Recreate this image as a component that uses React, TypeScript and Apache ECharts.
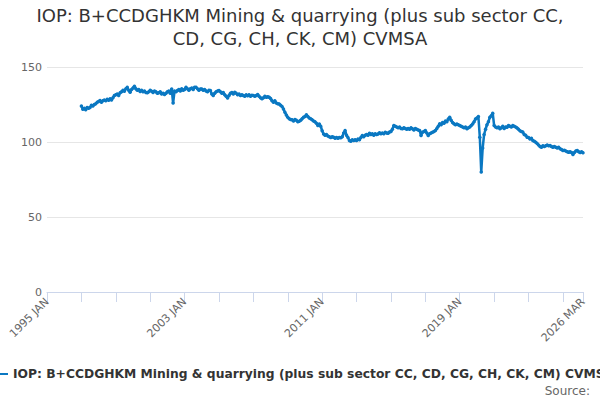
import { useEffect, useRef } from 'react'
import * as echarts from 'echarts'

const TITLE = 'IOP: B+CCDGHKM Mining & quarrying (plus sub sector CC,\nCD, CG, CH, CK, CM) CVMSA'
const SERIES_NAME = 'IOP: B+CCDGHKM Mining & quarrying (plus sub sector CC, CD, CG, CH, CK, CM) CVMSA'
const MONTHS = ['JAN', 'FEB', 'MAR', 'APR', 'MAY', 'JUN', 'JUL', 'AUG', 'SEP', 'OCT', 'NOV', 'DEC']
const FIRST_YEAR = 1995
const LAST_LABEL = '2026 MAR'
const DATA_START = '1997 JAN'
const Y_TICKS = [0, 50, 100, 150]

// monthly values, 1997 JAN .. 2026 MAR, one row per year
const values: number[] = [
  124.0, 121.8, 122.5, 121.5, 123.0, 122.5, 123.0, 124.5, 124.0, 125.0, 125.5, 126.5, // 1997
  127.0, 127.7, 126.5, 127.5, 128.0, 127.5, 128.5, 127.8, 128.8, 128.0, 129.5, 131.0, // 1998
  131.5, 132.0, 131.0, 132.8, 133.5, 134.5, 133.8, 135.5, 136.5, 134.5, 133.2, 135.0, // 1999
  136.0, 137.2, 135.5, 134.5, 135.0, 133.7, 134.5, 133.5, 134.0, 133.0, 132.8, 133.5, // 2000
  134.5, 133.9, 133.0, 134.0, 133.5, 132.5, 132.8, 133.5, 132.0, 132.5, 131.7, 132.5, // 2001
  133.5, 134.0, 132.5, 135.4, 126.0, 134.0, 133.5, 134.3, 135.0, 134.0, 135.5, 134.5, // 2002
  135.0, 136.5, 135.5, 134.5, 135.5, 136.0, 135.0, 136.5, 136.5, 135.5, 134.5, 135.4, // 2003
  135.4, 134.5, 135.0, 134.0, 133.5, 134.5, 134.3, 132.0, 131.0, 132.5, 133.5, 134.0, // 2004
  134.3, 133.5, 132.5, 133.0, 131.5, 130.5, 129.4, 131.0, 132.5, 133.0, 132.0, 133.2, // 2005
  132.5, 131.5, 132.0, 131.0, 131.5, 131.0, 130.5, 131.5, 130.8, 131.5, 130.5, 131.2, // 2006
  131.0, 130.5, 131.0, 131.7, 130.5, 129.5, 128.8, 129.5, 130.5, 129.8, 130.2, 129.9, // 2007
  129.0, 127.5, 126.5, 127.5, 126.0, 125.5, 125.4, 124.5, 123.7, 122.0, 119.9, 118.0, // 2008
  116.5, 115.5, 115.0, 114.8, 114.0, 115.0, 114.5, 113.5, 113.9, 114.5, 115.5, 116.5, // 2009
  117.0, 118.1, 117.0, 116.0, 115.5, 114.8, 114.0, 113.5, 112.5, 111.0, 112.0, 110.5, // 2010
  107.5, 105.4, 104.5, 105.0, 104.0, 103.5, 103.0, 103.5, 103.2, 102.5, 103.0, 102.5, // 2011
  103.0, 102.8, 103.5, 106.0, 107.7, 104.5, 103.0, 101.0, 100.5, 101.5, 101.0, 101.5, // 2012
  101.0, 102.0, 101.5, 103.0, 104.3, 103.5, 104.5, 105.0, 104.5, 105.9, 105.0, 105.5, // 2013
  104.5, 105.5, 105.0, 105.4, 106.1, 105.5, 106.0, 105.5, 106.5, 106.0, 105.8, 106.6, // 2014
  107.0, 108.5, 111.0, 110.5, 110.0, 109.5, 110.0, 109.0, 108.8, 109.5, 109.0, 108.5, // 2015
  109.0, 108.5, 109.5, 108.8, 108.0, 109.0, 108.5, 108.0, 107.7, 104.3, 106.5, 107.0, // 2016
  107.7, 106.0, 104.3, 105.5, 106.0, 106.5, 107.0, 107.7, 109.0, 110.5, 112.1, 111.5, // 2017
  113.0, 112.5, 114.0, 113.5, 115.4, 116.5, 114.5, 113.0, 112.1, 111.5, 112.0, 111.5, // 2018
  111.0, 110.5, 110.0, 109.5, 110.0, 108.8, 109.5, 110.0, 111.0, 112.0, 113.5, 115.4, // 2019
  116.0, 117.0, 103.2, 80.0, 96.0, 105.0, 108.5, 111.5, 113.5, 116.5, 117.5, 119.2, // 2020
  111.0, 110.0, 109.5, 110.0, 108.8, 109.5, 110.5, 109.0, 110.0, 109.9, 111.0, 110.5, // 2021
  110.0, 111.0, 110.5, 110.0, 109.4, 108.5, 107.5, 107.0, 106.6, 105.0, 104.5, 103.2, // 2022
  103.0, 102.0, 102.5, 101.0, 100.5, 99.9, 99.0, 98.0, 97.0, 96.5, 97.5, 97.0, // 2023
  97.5, 98.0, 97.5, 97.7, 97.0, 96.5, 97.0, 96.5, 96.0, 96.5, 95.5, 95.0, // 2024
  94.3, 94.5, 94.0, 93.5, 93.2, 93.5, 93.0, 91.7, 93.0, 94.0, 94.3, 93.5, // 2025
  93.0, 93.5, 92.8, // 2026
]

// category labels from 1995 JAN to 2026 MAR
const categories: string[] = []
for (let y = FIRST_YEAR; ; y++) {
  let done = false
  for (const m of MONTHS) {
    const label = `${y} ${m}`
    categories.push(label)
    if (label === LAST_LABEL) {
      done = true
      break
    }
  }
  if (done) break
}

const LINE_COLOR = '#0a78c2'
const FONT = "'DejaVu Sans', sans-serif"

export default function App() {
  const chartRef = useRef<HTMLDivElement>(null)

  useEffect(() => {
    if (!chartRef.current) return
    const chart = echarts.init(chartRef.current, undefined, { renderer: 'svg' })

    const startIdx = categories.indexOf(DATA_START)
    const seriesData = values.map((v, i) => [categories[startIdx + i], v])
    const lastIdx = categories.length - 1

    const option: echarts.EChartsOption = {
      animation: false,
      backgroundColor: '#ffffff',
      textStyle: { fontFamily: FONT },
      title: [
        {
          text: TITLE,
          left: 'center',
          top: 4,
          padding: 0,
          textStyle: {
            fontFamily: FONT,
            fontSize: 18,
            fontWeight: 'normal',
            color: '#333333',
            lineHeight: 23,
          },
        },
        {
          text: 'Source:',
          right: 10,
          top: 385,
          padding: 0,
          textStyle: {
            fontFamily: FONT,
            fontSize: 12,
            fontWeight: 'normal',
            color: '#666666',
          },
        },
      ],
      legend: {
        left: -8,
        top: 368,
        padding: 0,
        icon: 'rect',
        itemWidth: 16,
        itemHeight: 2,
        itemGap: 5,
        selectedMode: false,
        textStyle: {
          fontFamily: FONT,
          fontSize: 12.3,
          fontWeight: 'bold',
          color: '#333333',
        },
        data: [SERIES_NAME],
      },
      grid: {
        left: 47,
        right: 17,
        top: 67,
        bottom: 108,
      },
      xAxis: {
        type: 'category',
        data: categories,
        boundaryGap: false,
        axisLine: { lineStyle: { color: '#ccd6eb' } },
        axisTick: {
          length: 10,
          lineStyle: { color: '#ccd6eb' },
          interval: (idx: number) => idx % 24 === 0 || idx === lastIdx,
        },
        axisLabel: {
          rotate: 45,
          color: '#666666',
          fontSize: 11,
          margin: 8,
          interval: (idx: number) => idx % 96 === 0 || idx === lastIdx,
        },
        splitLine: { show: false },
      },
      yAxis: {
        type: 'value',
        min: Y_TICKS[0],
        max: Y_TICKS[Y_TICKS.length - 1],
        interval: 50,
        axisLine: { show: false },
        axisTick: { show: false },
        axisLabel: { color: '#666666', fontSize: 11, margin: 5 },
        splitLine: { lineStyle: { color: '#e6e6e6' } },
      },
      series: [
        {
          name: SERIES_NAME,
          type: 'line',
          data: seriesData,
          symbol: 'circle',
          symbolSize: 3.5,
          showAllSymbol: true,
          itemStyle: { color: LINE_COLOR },
          lineStyle: { color: LINE_COLOR, width: 2.5 },
          emphasis: { disabled: true },
        },
      ],
    }

    chart.setOption(option)
    return () => {
      chart.dispose()
    }
  }, [])

  return (
    <div
      ref={chartRef}
      style={{ position: 'fixed', left: 0, top: 0, width: '600px', height: '400px' }}
    />
  )
}
